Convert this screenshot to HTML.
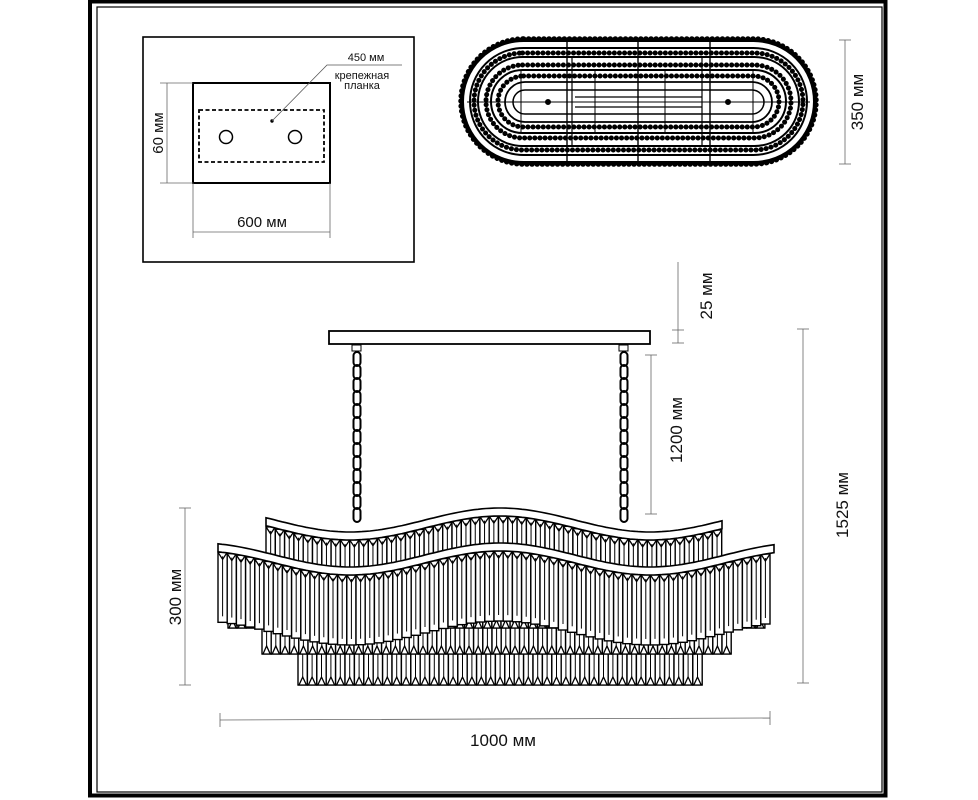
<!DOCTYPE html>
<html><head><meta charset="utf-8"><style>
html,body{margin:0;padding:0;background:#fff}
svg{display:block}
text{font-family:"Liberation Sans","DejaVu Sans",sans-serif;fill:#111}
</style></head><body>
<svg id="s" width="978" height="800" viewBox="0 0 978 800" xmlns="http://www.w3.org/2000/svg">
<rect x="90" y="1.5" width="795.5" height="794" fill="none" stroke="#000" stroke-width="4"/>
<rect x="97" y="7" width="785" height="785" fill="none" stroke="#000" stroke-width="1.2"/>

<rect x="143" y="37" width="271" height="225" fill="none" stroke="#000" stroke-width="1.6"/>
<rect x="193" y="83" width="137" height="100" fill="none" stroke="#000" stroke-width="2"/>
<rect x="199" y="110" width="125" height="52" fill="none" stroke="#000" stroke-width="1.8" stroke-dasharray="4,2.5"/>
<circle cx="226" cy="137" r="6.5" fill="none" stroke="#000" stroke-width="1.5"/>
<circle cx="295" cy="137" r="6.5" fill="none" stroke="#000" stroke-width="1.5"/>
<circle cx="272" cy="121" r="1.7" fill="#000"/>
<polyline points="272,121 327,65 402,65" fill="none" stroke="#555" stroke-width="0.8"/>
<text x="366" y="61" font-size="11" text-anchor="middle">450 мм</text>
<text x="362" y="79" font-size="11" text-anchor="middle">крепежная</text>
<text x="362" y="89" font-size="11" text-anchor="middle">планка</text>
<line x1="167" y1="83" x2="167" y2="183" stroke="#666" stroke-width="0.8"/>
<line x1="160" y1="83" x2="193" y2="83" stroke="#666" stroke-width="0.8"/>
<line x1="160" y1="183" x2="193" y2="183" stroke="#666" stroke-width="0.8"/>
<text transform="translate(163,133) rotate(-90)" font-size="15" text-anchor="middle">60 мм</text>
<line x1="193" y1="232" x2="330" y2="232" stroke="#666" stroke-width="0.8"/>
<line x1="193" y1="183" x2="193" y2="238" stroke="#666" stroke-width="0.8"/>
<line x1="330" y1="183" x2="330" y2="238" stroke="#666" stroke-width="0.8"/>
<text x="262" y="227" font-size="15" text-anchor="middle">600 мм</text>

<g fill="none" stroke="#000">
<rect x="461" y="39" width="355" height="125" rx="62.5" stroke-width="5.5" stroke-dasharray="0.1,5" stroke-linecap="round"/>
<rect x="463" y="41" width="351" height="121" rx="60.5" stroke-width="2"/>
<rect x="470" y="48" width="337" height="107" rx="53.5" stroke-width="2"/>
<rect x="474" y="53" width="329" height="97" rx="48.5" stroke-width="5" stroke-dasharray="0.1,5" stroke-linecap="round"/>
<rect x="478" y="57" width="321" height="89" rx="44.5" stroke-width="2"/>
<rect x="486" y="65" width="305" height="73" rx="36.5" stroke-width="5" stroke-dasharray="0.1,5" stroke-linecap="round"/>
<rect x="491" y="70" width="295" height="63" rx="31.5" stroke-width="2"/>
<rect x="498" y="76" width="281" height="51" rx="25.5" stroke-width="5" stroke-dasharray="0.1,5" stroke-linecap="round"/>
<rect x="505" y="82" width="267" height="40" rx="20" stroke-width="1.8"/>
<rect x="513" y="90" width="251" height="24" rx="12" stroke-width="1.5"/>
<line x1="575" y1="97" x2="702" y2="97" stroke-width="1.2"/>
<line x1="575" y1="107" x2="702" y2="107" stroke-width="1.2"/>
<circle cx="548" cy="102" r="2.5" fill="#000"/>
<circle cx="728" cy="102" r="2.5" fill="#000"/>
<line x1="567" y1="40" x2="567" y2="163" stroke-width="1.4"/>
<line x1="638" y1="40" x2="638" y2="163" stroke-width="1.4"/>
<line x1="710" y1="40" x2="710" y2="163" stroke-width="1.4"/>
<line x1="572" y1="57" x2="572" y2="146" stroke-width="1.2"/>
<line x1="702" y1="57" x2="702" y2="146" stroke-width="1.2"/>
<line x1="521" y1="70" x2="521" y2="133" stroke-width="1"/>
<line x1="595" y1="70" x2="595" y2="133" stroke-width="1"/>
<line x1="665" y1="70" x2="665" y2="133" stroke-width="1"/>
<line x1="753" y1="70" x2="753" y2="133" stroke-width="1"/>
<line x1="467" y1="102" x2="810" y2="102" stroke-width="1"/>
</g>
<line x1="845" y1="40" x2="845" y2="164" stroke="#666" stroke-width="0.8"/>
<line x1="839" y1="40" x2="851" y2="40" stroke="#666" stroke-width="0.8"/>
<line x1="839" y1="164" x2="851" y2="164" stroke="#666" stroke-width="0.8"/>
<text transform="translate(863,102) rotate(-90)" font-size="17" text-anchor="middle">350 мм</text>

<rect x="329" y="331" width="321" height="13" fill="#fff" stroke="#000" stroke-width="1.8"/>
<rect x="352" y="345" width="9" height="6" fill="#fff" stroke="#000" stroke-width="1"/>
<rect x="619" y="345" width="9" height="6" fill="#fff" stroke="#000" stroke-width="1"/>
<g id="chains"></g>

<line x1="678" y1="262" x2="678" y2="343" stroke="#666" stroke-width="0.8"/>
<line x1="672" y1="330" x2="684" y2="330" stroke="#666" stroke-width="0.8"/>
<line x1="672" y1="343" x2="684" y2="343" stroke="#666" stroke-width="0.8"/>
<text transform="translate(712,296) rotate(-90)" font-size="17" text-anchor="middle">25 мм</text>
<line x1="651" y1="355" x2="651" y2="514" stroke="#666" stroke-width="0.8"/>
<line x1="645" y1="355" x2="657" y2="355" stroke="#666" stroke-width="0.8"/>
<line x1="645" y1="514" x2="657" y2="514" stroke="#666" stroke-width="0.8"/>
<text transform="translate(682,430) rotate(-90)" font-size="17" text-anchor="middle">1200 мм</text>
<line x1="803" y1="329" x2="803" y2="683" stroke="#666" stroke-width="0.8"/>
<line x1="797" y1="329" x2="809" y2="329" stroke="#666" stroke-width="0.8"/>
<line x1="797" y1="683" x2="809" y2="683" stroke="#666" stroke-width="0.8"/>
<text transform="translate(848,505) rotate(-90)" font-size="17" text-anchor="middle">1525 мм</text>
<line x1="185" y1="508" x2="185" y2="685" stroke="#666" stroke-width="0.8"/>
<line x1="179" y1="508" x2="191" y2="508" stroke="#666" stroke-width="0.8"/>
<line x1="179" y1="685" x2="191" y2="685" stroke="#666" stroke-width="0.8"/>
<text transform="translate(181,597) rotate(-90)" font-size="17" text-anchor="middle">300 мм</text>
<line x1="220" y1="720" x2="770" y2="718" stroke="#666" stroke-width="0.8"/>
<line x1="220" y1="713" x2="220" y2="727" stroke="#666" stroke-width="0.8"/>
<line x1="770" y1="711" x2="770" y2="725" stroke="#666" stroke-width="0.8"/>
<text x="503" y="746" font-size="17" text-anchor="middle">1000 мм</text>

<g id="shade"></g>
</svg>
<script>
var NS="http://www.w3.org/2000/svg";
function el(p,t,a){var e=document.createElementNS(NS,t);for(var k in a)e.setAttribute(k,a[k]);p.appendChild(e);return e;}
var ch=document.getElementById('chains');
[357,624].forEach(function(cx){
  for(var y=352;y<518;y+=13){
    el(ch,'rect',{x:cx-3.5,y:y,width:7,height:14,rx:3.5,fill:'none',stroke:'#000','stroke-width':2});
  }
});
var g=document.getElementById('shade');
function crystal(x,y,w,h,tri){
  el(g,'rect',{x:x,y:y,width:w,height:h,fill:'#fff',stroke:'#000','stroke-width':1.4});
  el(g,'line',{x1:x+w/2,y1:y+4,x2:x+w/2,y2:y+h-6,stroke:'#000','stroke-width':1});
  if(tri=='top'){el(g,'polyline',{points:(x)+','+(y)+' '+(x+w/2)+','+(y+7)+' '+(x+w)+','+y,fill:'none',stroke:'#000','stroke-width':1.3});}
  else{el(g,'polygon',{points:(x+1)+','+(y+h)+' '+(x+w/2)+','+(y+h-8)+' '+(x+w-1)+','+(y+h),fill:'#fff',stroke:'#000','stroke-width':1.3});}
}
function wave(x,base){return base-12*Math.cos(2*Math.PI*(x-500)/300);}
function rowRect(x0,x1,y,h,step){for(var x=x0;x<x1-step+1;x+=step)crystal(x,y,step,h,'bot');}
rowRect(298,702,640,45,9.4);
rowRect(298,702,612,40,9.4);
rowRect(262,738,596,58,9.2);
rowRect(228,764,576,52,9.1);
function waveTier(x0,x1,base,len,step){
  for(var x=x0;x<x1-step+1;x+=step){var yt=wave(x+step/2,base)+8;crystal(x,yt,step,len,'top');}
  var d='';for(var x=x0;x<=x1;x+=4){d+=(x==x0?'M':'L')+x+','+wave(x,base).toFixed(1);}
  var d2='';for(var x=x1;x>=x0;x-=4){d2+='L'+x+','+(wave(x,base)+8).toFixed(1);}
  el(g,'path',{d:d+d2+'Z',fill:'#fff',stroke:'#000','stroke-width':1.6});
}
waveTier(266,722,520,66,9.3);
waveTier(218,774,555,70,9.2);
</script>
</body></html>
